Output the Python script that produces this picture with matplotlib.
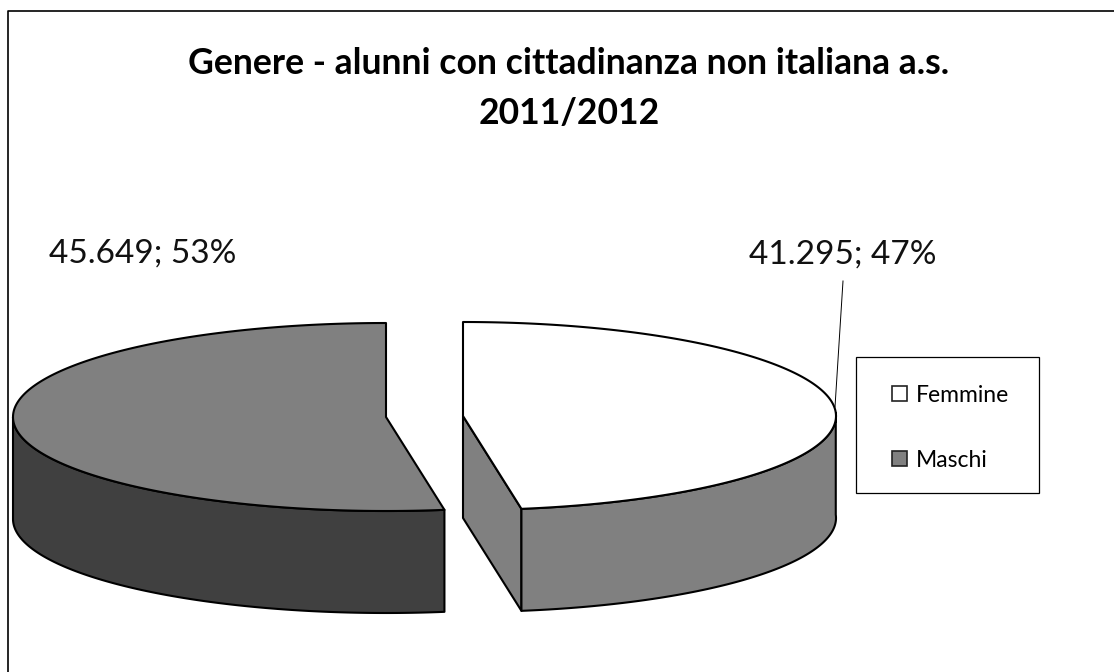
import numpy as np
import matplotlib
matplotlib.use("Agg")
import matplotlib.pyplot as plt
from matplotlib.patches import Patch, Polygon, Rectangle

# Data
categories = ["Femmine", "Maschi"]
students = [41295, 45649]
shares = ["47%", "53%"]
value_labels = ["41.295", "45.649"]
title_lines = ["Genere - alunni con cittadinanza non italiana a.s.", "2011/2012"]

# Style
TOP_COLORS = ["#ffffff", "#808080"]
SIDE_COLORS = ["#808080", "#404040"]
LINE = "#000000"
LW = 1.5
FONT = "Lato"

# Pie geometry in canvas pixels
CENTERS = [(463, 416), (386, 417)]
RX, RY = 373, 94
DEPTH = 102

W, H = 1114, 672
fig = plt.figure(figsize=(W / 100, H / 100), dpi=100, facecolor="white")
ax = fig.add_axes([0, 0, 1, 1])
ax.set_xlim(0, W)
ax.set_ylim(H, 0)
ax.axis("off")


def rim(center, start, stop, drop=0.0):
    """Points on the pie rim, angles in degrees clockwise from twelve o'clock."""
    t = np.radians(np.linspace(start, stop, 200))
    cx, cy = center
    return np.column_stack([cx + RX * np.sin(t), cy - RY * np.cos(t) + drop])


def shape(points, color, z):
    ax.add_patch(Polygon(points, closed=True, facecolor=color, edgecolor=LINE,
                         linewidth=LW, joinstyle="round", zorder=z))


# Slice angles follow the student counts
split = 360 * students[0] / sum(students)

# Femmine: cut face, outer wall, top
c = CENTERS[0]
end = rim(c, split, split)[0]
shape([c, end, end + [0, DEPTH], (c[0], c[1] + DEPTH)], SIDE_COLORS[0], 2)
arc = rim(c, 88, split)
shape(np.vstack([arc, rim(c, split, 88, DEPTH)]), SIDE_COLORS[0], 2)
shape(np.vstack([[c], rim(c, 0, split)]), TOP_COLORS[0], 3)

# Maschi: outer wall, top
c = CENTERS[1]
arc = rim(c, split, 270)
shape(np.vstack([arc, rim(c, 270, split, DEPTH)]), SIDE_COLORS[1], 2)
shape(np.vstack([[c], rim(c, split, 360)]), TOP_COLORS[1], 3)

# Data labels with leader line
ax.plot([843, 835], [281, 407], color=LINE, lw=0.7, zorder=4)
ax.text(749, 264, f"{value_labels[0]}; {shares[0]}", fontsize=24, family=FONT,
        color="#111111", ha="left", va="baseline")
ax.text(49, 263, f"{value_labels[1]}; {shares[1]}", fontsize=24, family=FONT,
        color="#111111", ha="left", va="baseline")

# Title
ax.text(569, 74, title_lines[0], fontsize=25.6, family=FONT, weight="bold",
        ha="center", va="baseline", color="black")
ax.text(569, 124, title_lines[1], fontsize=25.6, family=FONT, weight="bold",
        ha="center", va="baseline", color="black")

# Legend box and entries
ax.add_patch(Rectangle((855.5, 356.5), 183, 136, facecolor="white",
                       edgecolor=LINE, linewidth=0.9, zorder=1))
handles = [Patch(facecolor=TOP_COLORS[0], edgecolor="#222222", linewidth=1.2),
           Patch(facecolor=TOP_COLORS[1], edgecolor="#222222", linewidth=1.2)]
ax.legend(handles, categories, loc="upper left", bbox_to_anchor=(0.801, 0.4275),
          frameon=False, prop={"family": FONT, "size": 16.5}, borderpad=0,
          borderaxespad=0, handlelength=0.62, handleheight=0.62, handletextpad=0.4,
          labelspacing=1.93)

# Chart frame: only the left and top edges fall inside the canvas
ax.plot([7.5, 7.5, W], [H, 10.5, 10.5], color=LINE, lw=1.2, zorder=5)

fig.savefig("out.png", dpi=100, facecolor="white")
